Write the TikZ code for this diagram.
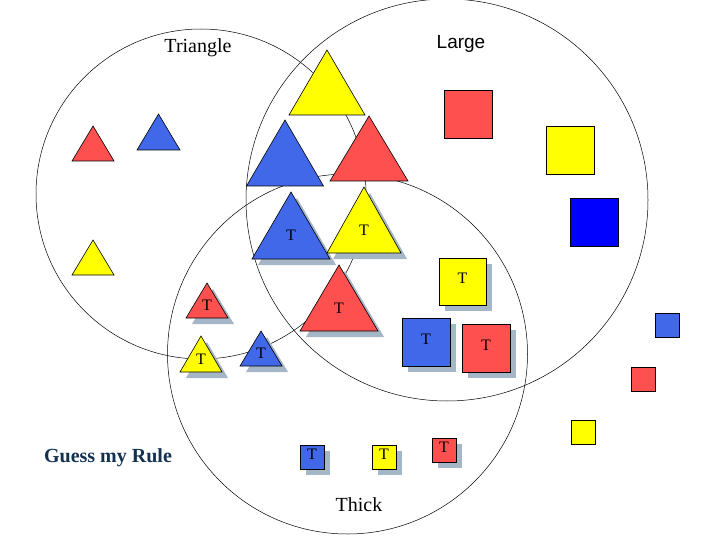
\documentclass[tikz,border=0pt]{standalone}
\usepackage{fontspec}
\setmainfont{Liberation Serif}
\newfontfamily\sansf{Liberation Sans}
\definecolor{cr}{RGB}{255,80,80}
\definecolor{cb}{RGB}{64,104,232}
\definecolor{cy}{RGB}{255,255,0}
\definecolor{pb}{RGB}{0,0,255}
\definecolor{sh}{RGB}{165,182,198}
\definecolor{gt}{RGB}{20,50,80}
\tikzset{shp/.style={draw=black,line width=0.6pt},shd/.style={fill=sh,draw=none},
lbl/.style={font=\fontsize{16}{16}\selectfont,inner sep=0pt}}
\newcommand\tri[5]{% color, apex x, apex y, half width, height
 \filldraw[shp,fill=#1] (#2,-#3) -- ++(-#4,-#5) -- ++(2*#4,0) -- cycle;}
\newcommand\ttri[5]{%
 \fill[shd] (#2+6,-#3-6) -- ++(-#4,-#5) -- ++(2*#4,0) -- cycle;
 \filldraw[shp,fill=#1] (#2,-#3) -- ++(-#4,-#5) -- ++(2*#4,0) -- cycle;
 \node[lbl] at (#2,-#3-0.65*#5) {T};}
\newcommand\sq[4]{% color, x, y, size
 \filldraw[shp,fill=#1] (#2,-#3) rectangle ++(#4,-#4);}
\newcommand\tsq[4]{%
 \fill[shd] (#2+6,-#3-6) rectangle ++(#4,-#4);
 \filldraw[shp,fill=#1] (#2,-#3) rectangle ++(#4,-#4);
 \node[lbl] at (#2+#4/2,-#3-#4/2+3) {T};}
\begin{document}
\begin{tikzpicture}[x=1pt,y=1pt]
\useasboundingbox (0,0) rectangle (720,-540);
\draw[line width=0.5pt] (201,-194) circle (165);
\draw[line width=0.5pt] (447,-200) circle (201);
\draw[line width=0.5pt] (347.5,-354) circle (180);
% plain triangles
\tri{cy}{327}{50}{38}{65}
\tri{cb}{285}{120}{38.5}{66}
\tri{cr}{369}{116}{39}{65}
\tri{cr}{93}{126}{21}{35}
\tri{cb}{158.5}{114}{21.5}{36}
\tri{cy}{93}{240}{21}{35}
% plain squares
\sq{cr}{444}{90}{48}
\sq{cy}{546}{126}{48}
\sq{pb}{570}{198}{48}
\sq{cb}{655}{313}{24}
\sq{cr}{631}{367}{24}
\sq{cy}{571}{420}{24}
% thick triangles
\ttri{cb}{291}{192}{39}{67}
\ttri{cy}{364}{187}{37}{66}
\ttri{cr}{339}{265}{39}{66}
\ttri{cr}{207}{283}{21}{35}
\ttri{cy}{201}{336}{21}{36}
\ttri{cb}{261}{331}{21}{35}
% thick squares
\tsq{cy}{439}{258}{47}
\tsq{cb}{402}{318}{48}
\tsq{cr}{462}{324}{48}
\tsq{cb}{300}{445}{24}
\tsq{cy}{372}{445}{24}
\tsq{cr}{432}{438}{24}
% texts
\node[font=\fontsize{20}{20}\selectfont] (t1) at (198,-48) {Triangle};
\node[font=\sansf\fontsize{19}{19}\selectfont] (t2) at (461,-44) {Large};
\node[font=\fontsize{20}{20}\selectfont] (t3) at (359,-505) {Thick};
\node[font=\bfseries\fontsize{20}{20}\selectfont,text=gt] (t4) at (108,-458) {Guess my Rule};
\end{tikzpicture}
\end{document}
